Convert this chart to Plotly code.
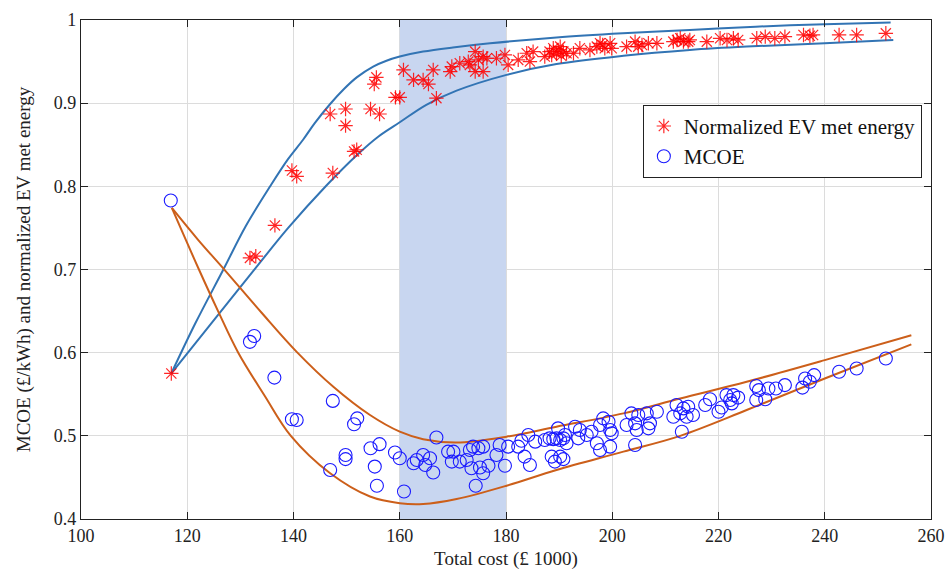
import plotly.graph_objects as go

# ---------------- data ----------------
ev_x = [117.0, 131.8, 132.9, 136.5, 139.7, 140.6, 147.4, 146.9, 149.8, 149.8, 151.4, 151.9,
        154.5, 156.2, 155.2, 155.6, 159.2, 160.0, 160.7, 162.6, 164.4, 165.4, 166.9, 166.3,
        169.5, 169.8, 171.3, 173.2, 172.9, 174.2, 174.8, 175.7, 176.4, 174.2, 175.7, 178.2,
        179.8, 180.4, 182.3, 183.9, 184.5, 185.1, 187.3, 188.2, 188.9, 189.5, 190.2, 190.8,
        191.4, 192.7, 188.6, 189.8, 190.4, 193.9, 195.8, 197.1, 197.7, 198.6, 199.6, 199.9,
        198.2, 202.7, 204.3, 204.9, 206.8, 208.4, 205.6, 211.5, 212.8, 213.4, 214.3, 214.6,
        212.2, 217.8, 220.3, 221.6, 222.8, 223.7, 227.2, 228.8, 230.6, 232.5, 236.0, 237.2,
        237.8, 242.7, 246.0, 251.5]
ev_y = [0.575, 0.714, 0.716, 0.753, 0.819, 0.812, 0.816, 0.887, 0.893, 0.873, 0.842, 0.844,
        0.893, 0.887, 0.923, 0.931, 0.907, 0.907, 0.940, 0.928, 0.928, 0.923, 0.906, 0.940,
        0.938, 0.944, 0.948, 0.946, 0.950, 0.962, 0.952, 0.956, 0.954, 0.938, 0.938, 0.954,
        0.958, 0.946, 0.952, 0.960, 0.950, 0.962, 0.956, 0.962, 0.966, 0.960, 0.968, 0.962,
        0.960, 0.960, 0.958, 0.964, 0.957, 0.966, 0.964, 0.968, 0.972, 0.966, 0.972, 0.966,
        0.970, 0.968, 0.974, 0.968, 0.972, 0.972, 0.970, 0.974, 0.978, 0.974, 0.974, 0.976,
        0.976, 0.974, 0.978, 0.976, 0.978, 0.976, 0.978, 0.980, 0.978, 0.980, 0.982, 0.981,
        0.982, 0.982, 0.982, 0.984]

mcoe_x = [116.9, 131.8, 132.6, 136.4, 139.7, 140.6, 147.4, 146.9, 149.8, 149.8, 152.0, 151.4,
          154.5, 156.2, 155.3, 155.7, 159.1, 160.0, 162.6, 163.2, 160.8, 164.4, 164.8, 165.7,
          166.3, 166.9, 169.1, 170.1, 169.8, 171.3, 172.6, 173.2, 173.8, 174.8, 175.7, 173.5,
          175.1, 175.7, 176.7, 174.3, 178.2, 178.8, 179.8, 180.4, 182.3, 182.9, 183.5, 184.2,
          184.5, 185.5, 187.3, 188.2, 188.9, 189.5, 190.2, 190.8, 191.1, 188.6, 189.2, 190.2,
          190.8, 191.4, 189.8, 193.0, 193.9, 193.6, 195.2, 196.1, 197.1, 197.7, 197.7, 198.3,
          199.3, 199.6, 199.9, 199.6, 202.7, 203.6, 204.3, 204.9, 204.6, 206.5, 207.1, 206.8,
          208.4, 204.3, 212.1, 212.8, 213.4, 214.0, 213.1, 211.5, 215.2, 214.3, 217.5, 218.4,
          220.0, 220.6, 221.5, 222.2, 222.8, 222.5, 223.7, 227.1, 227.6, 227.1, 228.8, 229.4,
          230.8, 232.5, 235.8, 236.3, 237.2, 238.0, 242.7, 246.0, 251.5]
mcoe_y = [0.783, 0.613, 0.620, 0.570, 0.520, 0.519, 0.542, 0.459, 0.477, 0.472, 0.521, 0.514,
          0.485, 0.490, 0.463, 0.440, 0.480, 0.473, 0.467, 0.471, 0.433, 0.477, 0.465, 0.473,
          0.456, 0.498, 0.481, 0.481, 0.469, 0.469, 0.471, 0.483, 0.487, 0.485, 0.487, 0.461,
          0.462, 0.455, 0.464, 0.440, 0.477, 0.489, 0.464, 0.487, 0.487, 0.494, 0.475, 0.501,
          0.465, 0.493, 0.495, 0.497, 0.496, 0.497, 0.495, 0.497, 0.501, 0.475, 0.469, 0.475,
          0.472, 0.491, 0.509, 0.511, 0.507, 0.497, 0.501, 0.505, 0.491, 0.483, 0.513, 0.521,
          0.517, 0.507, 0.503, 0.487, 0.513, 0.527, 0.515, 0.525, 0.507, 0.527, 0.515, 0.509,
          0.529, 0.489, 0.537, 0.527, 0.533, 0.523, 0.505, 0.523, 0.525, 0.535, 0.537, 0.544,
          0.529, 0.534, 0.549, 0.543, 0.549, 0.539, 0.546, 0.560, 0.555, 0.543, 0.544, 0.557,
          0.557, 0.561, 0.558, 0.569, 0.565, 0.573, 0.577, 0.581, 0.593]

# envelope curves
ev_up_x = [117.0, 121.5, 126.8, 131.0, 135.6, 139.0, 141.8, 144.0, 146.9, 149.5, 151.9,
           155.0, 157.5, 160.0, 164.4, 170.0, 177.0, 189.5, 202.0, 214.6, 227.0, 240.0, 252.4]
ev_up_y = [0.575, 0.635, 0.700, 0.752, 0.800, 0.833, 0.856, 0.876, 0.899, 0.917, 0.931,
           0.944, 0.951, 0.956, 0.962, 0.967, 0.972, 0.979, 0.984, 0.988, 0.992, 0.995, 0.997]
ev_lo_x = [117.0, 124.0, 132.4, 139.0, 146.2, 152.0, 156.0, 160.0, 165.0, 170.7, 180.1,
           189.5, 202.1, 214.6, 225.3, 240.0, 252.9]
ev_lo_y = [0.575, 0.631, 0.698, 0.750, 0.801, 0.838, 0.860, 0.877, 0.898, 0.915, 0.934,
           0.947, 0.957, 0.964, 0.968, 0.972, 0.976]

mc_up_x = [117.1, 122.0, 127.1, 134.0, 140.6, 147.5, 154.4, 160.0, 164.4, 170.7, 180.1,
           189.5, 202.1, 212.8, 225.3, 240.0, 256.3]
mc_up_y = [0.774, 0.736, 0.699, 0.648, 0.601, 0.559, 0.525, 0.505, 0.496, 0.492, 0.499,
           0.511, 0.527, 0.545, 0.565, 0.591, 0.621]
mc_lo_x = [117.1, 122.2, 125.8, 129.6, 134.6, 139.5, 146.9, 154.4, 160.0, 164.4, 170.7,
           180.1, 189.5, 202.1, 212.8, 225.3, 240.0, 256.3]
mc_lo_y = [0.774, 0.700, 0.650, 0.600, 0.548, 0.500, 0.455, 0.427, 0.419, 0.418, 0.424,
           0.440, 0.459, 0.481, 0.500, 0.531, 0.569, 0.610]

shade_x = [160, 180]
x_ticks = [100, 120, 140, 160, 180, 200, 220, 240, 260]
y_ticks = [0.4, 0.5, 0.6, 0.7, 0.8, 0.9, 1.0]
y_tick_text = ["0.4", "0.5", "0.6", "0.7", "0.8", "0.9", "1"]

BLUE_LINE = "#3274b4"
ORANGE_LINE = "#cc5f1a"
FONT = "Times New Roman, Liberation Serif, DejaVu Serif, serif"

fig = go.Figure()

for xs, ys, c in [(ev_up_x, ev_up_y, BLUE_LINE), (ev_lo_x, ev_lo_y, BLUE_LINE),
                  (mc_up_x, mc_up_y, ORANGE_LINE), (mc_lo_x, mc_lo_y, ORANGE_LINE)]:
    fig.add_trace(go.Scatter(x=xs, y=ys, mode="lines", showlegend=False, hoverinfo="skip",
                             line=dict(color=c, width=2, shape="spline", smoothing=1.0)))

fig.add_trace(go.Scatter(
    x=ev_x, y=ev_y, mode="markers", name="Normalized EV met energy",
    marker=dict(symbol="asterisk-open", size=12, color="#ff0000",
                line=dict(color="#ff0000", width=1.2), opacity=0.85)))
fig.add_trace(go.Scatter(
    x=mcoe_x, y=mcoe_y, mode="markers", name="MCOE",
    marker=dict(symbol="circle-open", size=13, color="#1a1aff",
                line=dict(color="#1a1aff", width=1.1))))

fig.add_shape(type="rect", xref="x", yref="y", x0=shade_x[0], x1=shade_x[1], y0=0.4, y1=1.0,
              fillcolor="#c8d6f0", line=dict(width=0), layer="between")

axis_common = dict(showline=True, linecolor="#222222", linewidth=1.3, mirror="ticks",
                   ticks="inside", ticklen=7, tickcolor="#222222", tickwidth=1.2,
                   showgrid=True, gridcolor="#dcdcdc", gridwidth=1, zeroline=False,
                   automargin=False,
                   tickfont=dict(family=FONT, size=18, color="#222222"))

fig.update_layout(
    width=947, height=572,
    margin=dict(l=81, r=16, t=20, b=53),
    paper_bgcolor="white", plot_bgcolor="white",
    font=dict(family=FONT, size=18, color="#222222"),
    xaxis=dict(range=[100, 260], tickvals=x_ticks,
               title=dict(text="Total cost (£ 1000)", font=dict(family=FONT, size=19), standoff=6),
               **axis_common),
    yaxis=dict(range=[0.4, 1.0], tickvals=y_ticks, ticktext=y_tick_text,
               title=dict(text="MCOE (£/kWh) and normalized EV met energy",
                          font=dict(family=FONT, size=19), standoff=18),
               **axis_common),
    legend=dict(x=0.661, y=0.83, xanchor="left", yanchor="top",
                bgcolor="white", bordercolor="#222222", borderwidth=1,
                font=dict(family=FONT, size=21, color="#111111"),
                itemwidth=30, tracegroupgap=0),
    showlegend=True,
)

fig.write_html("out.html")
